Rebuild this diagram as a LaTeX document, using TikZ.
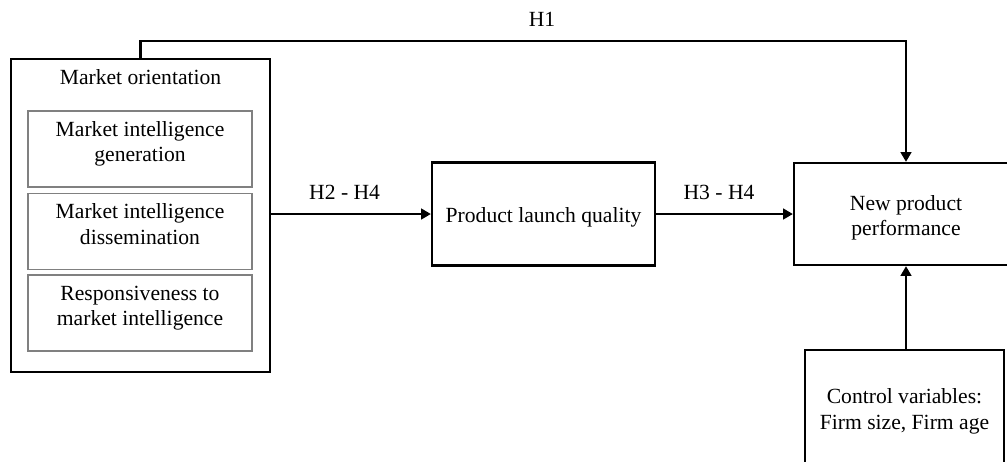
\documentclass[tikz,border=0pt]{standalone}
\usepackage{fontspec}
\setmainfont{Liberation Serif}
\usetikzlibrary{arrows.meta,positioning}

\begin{document}
\begin{tikzpicture}[x=0.02cm, y=-0.02cm, node distance=0.1cm,
    font=\fontsize{12.3}{14.5}\selectfont]
      \useasboundingbox (0,0) rectangle (1007,461);
      \begin{scope}[every node/.style={rectangle,draw,line width=1.3pt,align=center}]
        \node (mo) [minimum width=5.18cm, minimum height=6.26cm] at (140.5,215.5) {};
        \node (plq) [minimum width=4.46cm, minimum height=2.06cm, text height=12pt] at (543.5,214) {Product launch quality};
        \node (npp) [minimum width=4.48cm, minimum height=2.04cm, text height=27.5pt] at (906,214) {New product\\performance};
        \node (cv) [minimum width=3.98cm, minimum height=2.32cm, text height=27pt] at (904.5,408) {Control variables:\\Firm size, Firm age};
      \end{scope}
      \node (motitle) at (140.5,77) {Market orientation};
      \begin{scope}[every node/.style={rectangle,draw=gray,line width=0.9pt,align=center,text depth=8.5pt,
          minimum width=4.48cm, minimum height=1.52cm}]
        \node (gen) at (140,149) {Market intelligence\\generation};
        \node (dis) [below= 0.1cm of gen] {Market intelligence\\dissemination};
        \node (res) [below= 0.08cm of dis] {Responsiveness to\\market intelligence};
      \end{scope}
      \coordinate (h1) at (542,41);
      \begin{scope}
        [every edge/.style={draw, line width=1.3pt, -{Triangle[length=5.5pt,width=6pt]}}]
        \path (mo.east |- plq.west) edge node (h24) [pos=0.46, above=4pt] {H2 - H4} (plq.west);
        \path (plq.east) edge node (h34) [pos=0.46, above=4pt] {H3 - H4} (npp.west);
        \path (npp.south |- cv.north) edge (npp.south);
      \end{scope}
      \draw [line width=1.3pt, -{Triangle[length=5.5pt,width=6pt]}]
        (mo.north) |- (h1) node (h1lab) [above=4pt] {H1} -| (npp.north);
    \end{tikzpicture}
\end{document}
